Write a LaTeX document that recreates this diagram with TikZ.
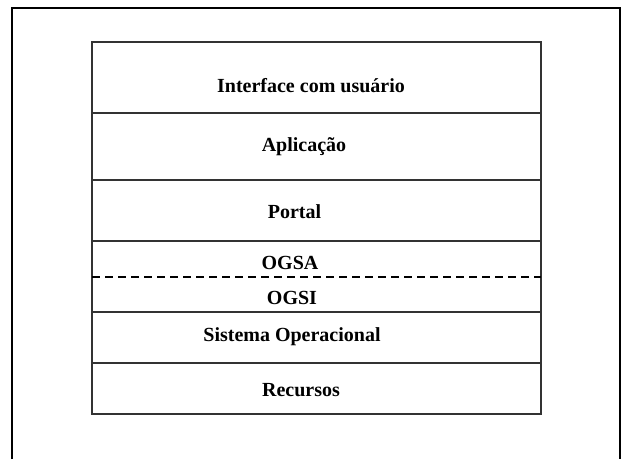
\documentclass[tikz,border=0pt]{standalone}
\usepackage{fontspec}
\setmainfont{Liberation Serif}
\begin{document}
\begin{tikzpicture}[x=1pt,y=-1pt,
  frame/.style={line width=2.6pt,black},
  stack/.style={line width=1.1pt,black!80},
  split/.style={line width=1.8pt,black,dash pattern=on 8pt off 5pt},
  layer/.style={anchor=base,inner sep=0pt,font=\fontsize{20}{24}\selectfont\bfseries}]
\useasboundingbox (0,0) rectangle (625,459);
% outer slide frame, open at the bottom
\draw[frame] (12,459) -- (12,8) -- (620,8) -- (620,459);
% layer stack
\draw[stack] (92,42) rectangle (541,414);
\foreach \yy in {113,180,241,312,363}
  \draw[stack] (92,\yy) -- (541,\yy);
\draw[split] (92,277) -- (541,277);
% layer labels
\node[layer] (ui)   at (311,92)  {Interface com usuário};
\node[layer] (app)  at (304,151) {Aplicação};
\node[layer] (port) at (294.5,218) {Portal};
\node[layer] (ogsa) at (290,269) {OGSA};
\node[layer] (ogsi) at (292,304) {OGSI};
\node[layer] (so)   at (292,341) {Sistema Operacional};
\node[layer] (rec)  at (301,396) {Recursos};
\end{tikzpicture}
\end{document}
